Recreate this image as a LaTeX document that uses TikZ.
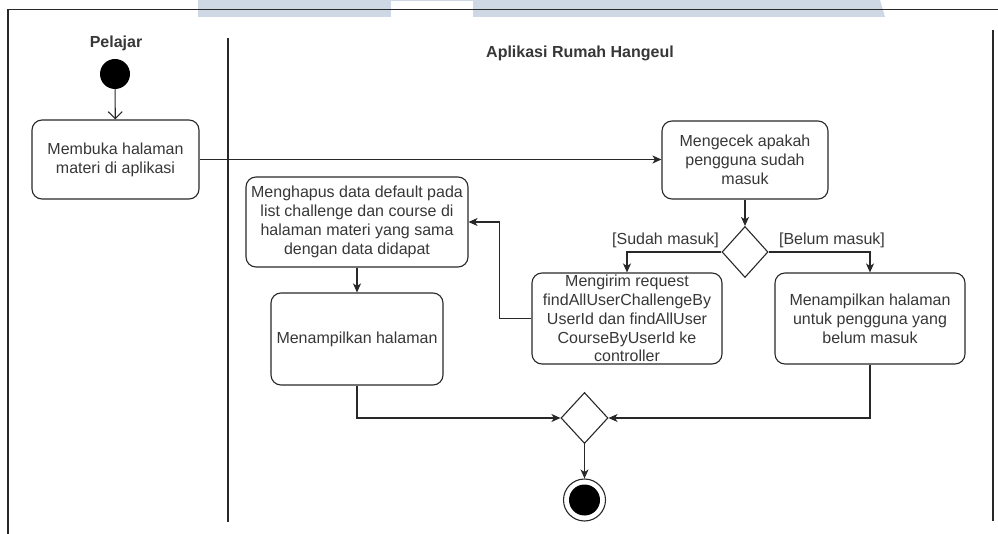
\documentclass[tikz,border=0pt]{standalone}
\usepackage{fontspec}
\setmainfont{Liberation Sans}
\usetikzlibrary{shapes.geometric,arrows.meta}
\definecolor{ink}{RGB}{40,40,40}
\definecolor{txt}{RGB}{55,55,55}
\definecolor{band}{RGB}{205,216,228}
\begin{document}
\begin{tikzpicture}[x=1pt,y=-1pt,
  every node/.style={font=\fontsize{16}{18.8}\selectfont, text=txt},
  act/.style={draw=ink, line width=1.1pt, rounded corners=10pt, inner sep=0pt, align=center},
  gate/.style={diamond, draw=ink, line width=1.1pt, inner sep=0pt, minimum width=46pt, minimum height=51pt},
  flow/.style={draw=ink, line width=1.1pt, -{Stealth[length=9pt,width=8pt,inset=2.5pt]}},
  openflow/.style={draw=ink, line width=1.1pt, -{Straight Barb[length=7pt,width=14pt]}},
  lane/.style={draw=ink, line width=1.3pt},
  guard/.style={font=\fontsize{16}{18}\selectfont, inner sep=0pt}
]
\useasboundingbox (0,0) rectangle (998,534);

% header band
\fill[band] (198,0) -- (880,0) -- (885,17) -- (198,17) -- cycle;
\fill[white] (391,1.5) rectangle (473,17);
\draw[lane] (8,9.5) -- (998,9.5);

% swimlane frame
\draw[lane] (8,9.5) -- (8,534);
\draw[lane] (993,30) -- (993,521);
\draw[lane] (228,38) -- (228,522);

% lane titles
\node[font=\bfseries\fontsize{16}{18}\selectfont] (tpelajar) at (116,43) {Pelajar};
\node[font=\bfseries\fontsize{16}{18}\selectfont] (tapp) at (580,53) {Aplikasi Rumah Hangeul};

% start node
\node[circle, fill=black, minimum size=30pt, inner sep=0pt] (start) at (115,74) {};

% activities
\node[act, minimum width=167pt, minimum height=79pt] (buka) at (115.5,159.5) {Membuka halaman\\materi di aplikasi};
\node[act, minimum width=166pt, minimum height=78pt] (cek) at (745,160) {Mengecek apakah\\pengguna sudah\\masuk};
\node[gate] (dec) at (745,252) {};
\node[act, minimum width=190pt, minimum height=91pt] (kirim) at (627,318.5) {Mengirim request\\findAllUserChallengeBy\\UserId dan findAllUser\\CourseByUserId ke\\controller};
\node[act, minimum width=190pt, minimum height=91pt] (belum) at (870,318.5) {Menampilkan halaman\\untuk pengguna yang\\belum masuk};
\node[act, minimum width=222pt, minimum height=90pt] (hapus) at (357,222) {Menghapus data default pada\\list challenge dan course di\\halaman materi yang sama\\dengan data didapat};
\node[act, minimum width=172pt, minimum height=92pt] (tampil) at (357,339) {Menampilkan halaman};
\node[gate, minimum width=47pt] (merge) at (584.5,418) {};
\node[circle, draw=ink, line width=1.1pt, minimum size=42pt, inner sep=0pt,
  path picture={\fill[black] (path picture bounding box.center) circle (15.5pt);}] (stop) at (584.5,500) {};

% control flow
\draw[openflow] (start) -- (buka);
\draw[flow] (buka.east) -- (buka.east -| cek.west);
\draw[flow] (cek) -- (dec);
\draw[flow] (dec.west) -| node[guard, pos=0, anchor=south east, xshift=-2pt, yshift=4pt] (gsudah) {[Sudah masuk]} (kirim.north);
\draw[flow] (dec.east) -| node[guard, pos=0, anchor=south west, xshift=10pt, yshift=4pt] (gbelum) {[Belum masuk]} (belum.north);
\draw[flow] (kirim.west) -- ++(-32,0) |- (hapus.east);
\draw[flow] (hapus.south -| tampil.north) -- (tampil.north);
\draw[flow] (tampil.south) |- (merge.west);
\draw[flow] (belum.south) |- (merge.east);
\draw[flow] (merge) -- (stop);
\end{tikzpicture}
\end{document}
